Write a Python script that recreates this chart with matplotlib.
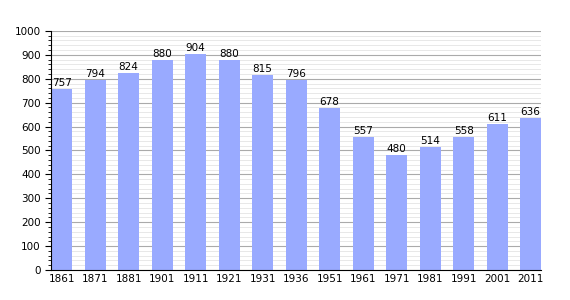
import matplotlib.pyplot as plt
from matplotlib.ticker import MultipleLocator

annees = ["1861", "1871", "1881", "1901", "1911", "1921", "1931", "1936",
          "1951", "1961", "1971", "1981", "1991", "2001", "2011"]
population = [757, 794, 824, 880, 904, 880, 815, 796, 678, 557, 480, 514, 558, 611, 636]

fig = plt.figure(figsize=(5.7, 3.0), dpi=100)
ax = fig.add_axes([0.0895, 0.1, 0.86, 0.797])

x = range(len(annees))
largeur = 0.63
ax.bar(x, population, width=largeur, color="#99aaff", zorder=2)
for i, v in enumerate(population):
    ax.text(i, v + 4, str(v), ha="center", va="bottom", fontsize=7.5, zorder=3)

ax.set_xlim(-largeur / 2, len(annees) - 1 + largeur / 2)
ax.set_ylim(0, 1000)
ax.set_xticks(list(x))
ax.set_xticklabels(annees, fontsize=7.5)
ax.yaxis.set_major_locator(MultipleLocator(100))
ax.yaxis.set_minor_locator(MultipleLocator(20))
ax.tick_params(axis="y", labelsize=7.5, length=4, direction="out")
ax.tick_params(axis="y", which="minor", length=2)
ax.tick_params(axis="x", length=0, pad=3)
ax.grid(axis="y", which="major", color="#aaaaaa", linewidth=0.8, zorder=0)
ax.grid(axis="y", which="minor", color="#e4e4e4", linewidth=0.6, zorder=0)
ax.spines["top"].set_visible(False)
ax.spines["right"].set_visible(False)

fig.savefig("out.png", dpi=100)
